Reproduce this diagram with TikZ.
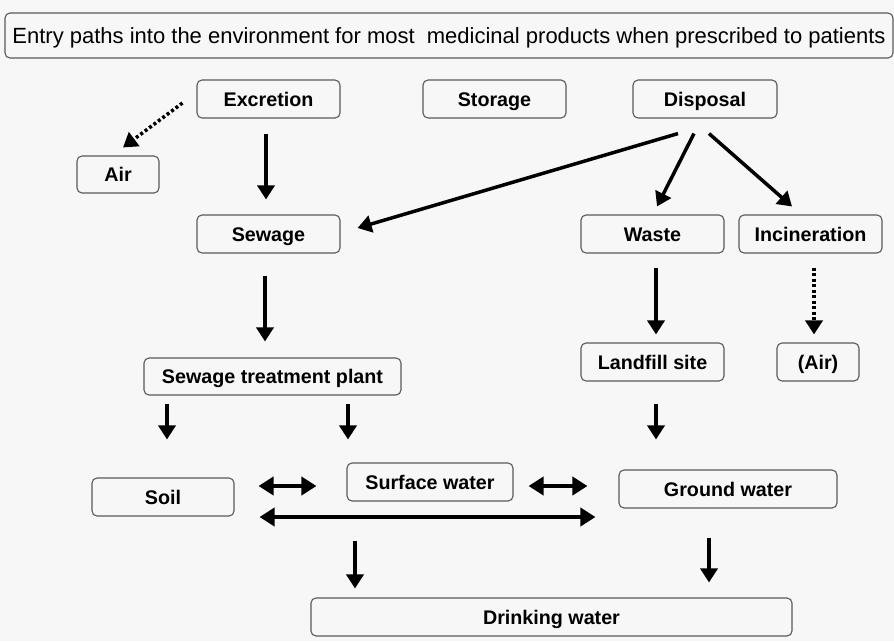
\documentclass[tikz,border=0pt]{standalone}
\usepackage{fontspec}
\setmainfont{Liberation Sans}
\usetikzlibrary{arrows.meta,positioning}

\definecolor{bgcol}{HTML}{F7F7F7}
\definecolor{framecol}{HTML}{5A5A5A}

\begin{document}
\begin{tikzpicture}[
    x=1pt, y=-1pt,
    box/.style={draw=framecol, line width=1.1pt, rounded corners=5pt, fill=bgcol,
        minimum height=38pt, inner sep=0pt, text height=14.1pt, text depth=0pt,
        font=\fontsize{19.7}{22}\selectfont\bfseries},
    arr/.style={-{Triangle[length=14pt,width=17pt]}, line width=3.5pt},
    dotarr/.style={arr, dash pattern=on 3pt off 2.5pt},
    dblarr/.style={{Triangle[length=15pt,width=18pt]}-{Triangle[length=15pt,width=18pt]}, line width=4pt}
]

    % --- 1. 背景 ---
    \fill[bgcol] (0,0) rectangle (894,641);
    \useasboundingbox (0,0) rectangle (894,641);

    % --- 2. 標題 ---
    \node[box, minimum width=888pt, minimum height=45pt, text height=15.8pt,
          font=\fontsize{22}{26}\selectfont]
        (title) at (449,35.5) {Entry paths into the environment for most\ \ medicinal products when prescribed to patients};

    % --- 3. 上層：來源 ---
    \node[box, minimum width=143pt] (excretion) at (268.5,99) {Excretion};
    \node[box, minimum width=143pt] (storage) at (494.5,99) {Storage};
    \node[box, minimum width=144pt] (disposal) at (705,99) {Disposal};
    \node[box, minimum width=82pt, minimum height=37pt] (air) at (118,174.5) {Air};

    % --- 4. 中層 ---
    \node[box, minimum width=143pt] (sewage) at (268.5,234) {Sewage};
    \node[box, minimum width=143pt] (waste) at (652.5,234) {Waste};
    \node[box, minimum width=143pt] (incin) at (810.5,234) {Incineration};

    \node[box, minimum width=257pt, minimum height=37pt] (stp) at (272.5,376.5) {Sewage treatment plant};
    \node[box, minimum width=143pt] (landfill) at (652.5,362) {Landfill site};
    \node[box, minimum width=82pt] (airb) at (818,362) {(Air)};

    % --- 5. 下層：環境 ---
    \node[box, minimum width=142pt] (soil) at (163,497) {Soil};
    \node[box, minimum width=166pt] (surface) at (430,482) {Surface water};
    \node[box, minimum width=218pt] (ground) at (728,489) {Ground water};
    \node[box, minimum width=481pt] (drink) at (551.5,617) {Drinking water};

    % --- 6. 箭頭 ---
    % Excretion
    \draw[arr] ([xshift=-2.5pt,yshift=-15pt]excretion.south) -- ([xshift=-2.5pt,yshift=15pt]sewage.north);
    \draw[dotarr] ([xshift=-14pt,yshift=-4pt]excretion.west) -- ([xshift=5pt,yshift=8pt]air.north);

    % Disposal
    \draw[arr] ([xshift=-27pt,yshift=-15pt]disposal.south) -- ([xshift=17pt,yshift=6pt]sewage.east);
    \draw[arr] ([xshift=-11pt,yshift=-15pt]disposal.south) -- ([xshift=4.5pt,yshift=8pt]waste.north);
    \draw[arr] ([xshift=4pt,yshift=-15pt]disposal.south) -- ([xshift=-18.5pt,yshift=8pt]incin.north);

    % Sewage / Waste / Incineration
    \draw[arr] ([xshift=-3.5pt,yshift=-22pt]sewage.south) -- ([xshift=-7.5pt,yshift=16pt]stp.north);
    \draw[arr] ([xshift=3.5pt,yshift=-14pt]waste.south) -- ([xshift=3.5pt,yshift=8pt]landfill.north);
    \draw[dotarr] ([xshift=3.5pt,yshift=-14pt]incin.south) -- ([xshift=-4pt,yshift=8pt]airb.north);

    % Sewage treatment plant / Landfill
    \draw[arr] ([xshift=-105.5pt,yshift=-8pt]stp.south) -- ([xshift=4pt,yshift=38pt]soil.north);
    \draw[arr] ([xshift=75.5pt,yshift=-8pt]stp.south) -- ([xshift=-82pt,yshift=23pt]surface.north);
    \draw[arr] ([xshift=3.5pt,yshift=-22pt]landfill.south) -- ([xshift=-72pt,yshift=30pt]ground.north);

    % 水體之間
    \draw[dblarr] ([xshift=24pt,yshift=11pt]soil.east) -- ([xshift=-30pt,yshift=-4pt]surface.west);
    \draw[dblarr] ([xshift=15pt,yshift=-4pt]surface.east) -- ([xshift=-31pt,yshift=3pt]ground.west);
    \draw[dblarr] ([xshift=25pt,yshift=-20pt]soil.east) -- ([xshift=-23pt,yshift=-28pt]ground.west);

    % Drinking water
    \draw[arr] ([xshift=-75pt,yshift=-39pt]surface.south) -- ([xshift=-196.5pt,yshift=9pt]drink.north);
    \draw[arr] ([xshift=-19pt,yshift=-29pt]ground.south) -- ([xshift=157.5pt,yshift=15pt]drink.north);

\end{tikzpicture}
\end{document}
